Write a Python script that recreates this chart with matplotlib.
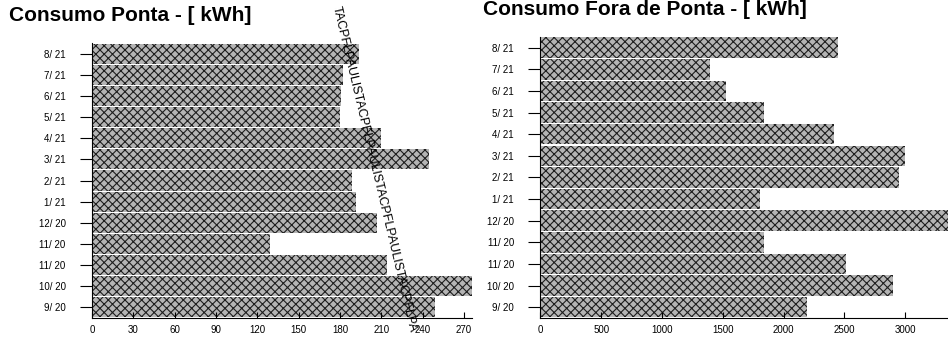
import matplotlib.pyplot as plt

plt.rcParams['font.family'] = ['Liberation Sans', 'DejaVu Sans']
plt.rcParams['hatch.linewidth'] = 0.8

# months, top to bottom as in the report
meses = ["8/ 21", "7/ 21", "6/ 21", "5/ 21", "4/ 21", "3/ 21", "2/ 21",
         "1/ 21", "12/ 20", "11/ 20", "11/ 20", "10/ 20", "9/ 20"]
ponta = [194, 182, 181, 180, 210, 245, 189, 192, 207, 129, 214, 285, 249]
fora_ponta = [2445, 1398, 1529, 1840, 2412, 3000, 2951, 1807, 3400, 1840, 2510, 2902, 2191]

ticks_ponta = [0, 30, 60, 90, 120, 150, 180, 210, 240, 270]
ticks_fora = [0, 500, 1000, 1500, 2000, 2500, 3000]

fig = plt.figure(figsize=(9.48, 3.39), dpi=100)
ax1 = fig.add_axes([0.097, 0.062, 0.401, 0.811])
ax2 = fig.add_axes([0.570, 0.062, 0.430, 0.829])


def desenha(ax, valores, ticks, xmax):
    pos = list(range(len(meses)))[::-1]
    ax.barh(pos, valores, height=0.95, color='#b4b4b4', hatch='xxxx',
            edgecolor='#1e1e1e', linewidth=0)
    ax.set_ylim(-0.5, len(meses) - 0.5)
    ax.set_xlim(0, xmax)
    ax.set_yticks(pos)
    ax.set_yticklabels(meses, fontsize=7)
    ax.set_xticks(ticks)
    ax.set_xticklabels([str(t) for t in ticks], fontsize=7)
    ax.tick_params(axis='y', direction='out', length=9, pad=10)
    ax.tick_params(axis='x', direction='in', length=4, pad=5)
    for s in ['top', 'right']:
        ax.spines[s].set_visible(False)


desenha(ax1, ponta, ticks_ponta, 276)
desenha(ax2, fora_ponta, ticks_fora, 3353)

fig.text(0.009, 0.955, "Consumo Ponta - [ kWh]", fontsize=15,
         fontweight='bold', va='center', ha='left')
fig.text(0.509, 0.972, "Consumo Fora de Ponta - [ kWh]", fontsize=15,
         fontweight='bold', va='center', ha='left')

# carimbo diagonal do documento escaneado
fig.text(0.395, 0.50, "TACPFLPAULISTACPFLPAULISTACPFLPAULISTACPFLPA",
         fontsize=9, rotation=-76.7, ha='center', va='center',
         rotation_mode='anchor')

fig.savefig("out.png", dpi=100)
